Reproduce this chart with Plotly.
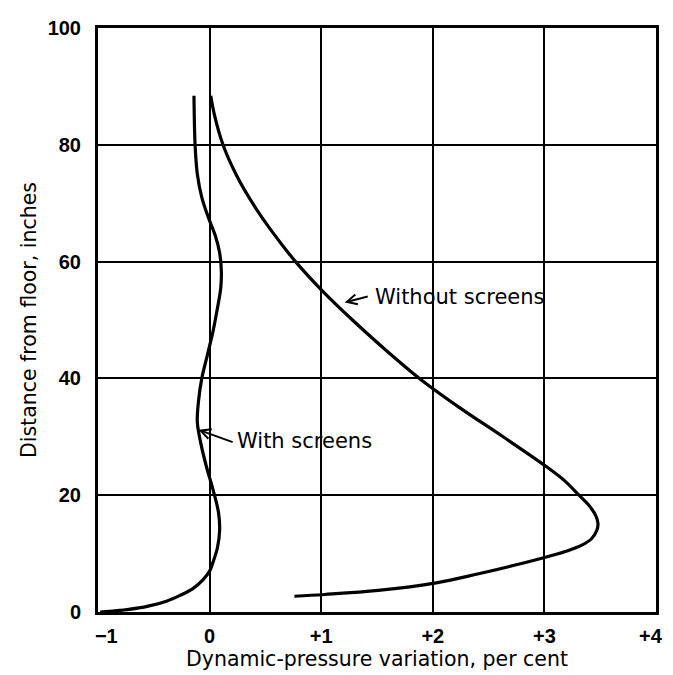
import plotly.graph_objects as go

# Data
without_y = [88.4, 85, 80, 75, 70, 65, 60, 55, 50, 45, 40, 35, 30, 25, 22.5, 20, 18, 16.5, 15.2, 14, 12.5, 11.5, 10.5, 9.6, 7.95, 6.5, 5.0, 3.7, 3.0, 2.7]
without_x = [0.01, 0.045, 0.12, 0.235, 0.385, 0.565, 0.77, 1.01, 1.28, 1.57, 1.88, 2.24, 2.63, 3.01, 3.18, 3.31, 3.41, 3.46, 3.48, 3.47, 3.42, 3.34, 3.21, 3.05, 2.72, 2.40, 2.03, 1.51, 1.03, 0.76]

with_y = [88.4, 80, 75, 71, 67.5, 64.5, 61.5, 58.5, 55.5, 52, 48, 44, 40, 36, 32.5, 29, 25, 21, 17, 14, 11, 8.5, 7, 5.5, 4, 2.8, 1.9, 1.0, 0.4, 0.1, 0]
with_x = [-0.14, -0.13, -0.11, -0.07, -0.01, 0.05, 0.09, 0.105, 0.10, 0.07, 0.03, -0.02, -0.07, -0.10, -0.11, -0.08, -0.03, 0.03, 0.08, 0.09, 0.07, 0.03, 0.0, -0.06, -0.15, -0.27, -0.38, -0.55, -0.74, -0.90, -0.98]

x_tickvals = [-1, 0, 1, 2, 3, 4]
x_ticktext = ["\u00a0\u00a0\u00a0\u22121", "0", "+1", "+2", "+3", "+4\u00a0\u00a0"]
y_tickvals = [0, 20, 40, 60, 80, 100]
y_ticktext = ["0", "20", "40", "60", "80", "100"]

TICKFONT = "Liberation Sans"
FONT = "DejaVu Sans"

fig = go.Figure()
fig.add_trace(go.Scatter(x=without_x, y=without_y, mode="lines",
                         line=dict(color="black", width=3.2, shape="spline", smoothing=1.0),
                         name="Without screens", showlegend=False))
fig.add_trace(go.Scatter(x=with_x, y=with_y, mode="lines",
                         line=dict(color="black", width=3.2, shape="spline", smoothing=1.0),
                         name="With screens", showlegend=False))

fig.add_annotation(x=1.21, y=53.0, ax=1.43, ay=54.1, axref="x", ayref="y",
                   xref="x", yref="y", text="", showarrow=True,
                   arrowhead=5, arrowsize=1.0, arrowwidth=2, arrowcolor="black")
fig.add_annotation(x=1.46, y=53.9, xref="x", yref="y", text="Without screens",
                   showarrow=False, xanchor="left", yanchor="middle",
                   font=dict(family=FONT, size=21, color="black"))

fig.add_annotation(x=-0.10, y=31.2, ax=0.22, ay=29.0, axref="x", ayref="y",
                   xref="x", yref="y", text="", showarrow=True,
                   arrowhead=5, arrowsize=1.0, arrowwidth=2, arrowcolor="black")
fig.add_annotation(x=0.23, y=29.2, xref="x", yref="y", text="With screens",
                   showarrow=False, xanchor="left", yanchor="middle",
                   font=dict(family=FONT, size=21, color="black"))

fig.update_xaxes(range=[-1, 4], tickvals=x_tickvals, ticktext=x_ticktext,
                 showgrid=True, gridcolor="black", gridwidth=1.6,
                 showline=True, linecolor="black", linewidth=3, mirror=True,
                 zeroline=False, ticks="", ticklabeloverflow="allow",
                 ticklabelstandoff=4,
                 tickfont=dict(family=TICKFONT, size=20, color="black", weight="bold"),
                 title=dict(text="Dynamic-pressure variation, per cent",
                            font=dict(family=FONT, size=20.5, color="black"), standoff=6))
fig.update_yaxes(range=[0, 100], tickvals=y_tickvals, ticktext=y_ticktext,
                 showgrid=True, gridcolor="black", gridwidth=1.6,
                 showline=True, linecolor="black", linewidth=3, mirror=True,
                 zeroline=False, ticks="", ticklabelstandoff=10,
                 tickfont=dict(family=TICKFONT, size=20, color="black", weight="bold"),
                 title=dict(text="Distance from floor, inches",
                            font=dict(family=FONT, size=20.5, color="black"), standoff=6))

fig.update_layout(width=673, height=675,
                  margin=dict(l=90, r=8, t=20, b=71),
                  plot_bgcolor="white", paper_bgcolor="white",
                  showlegend=False)

fig.write_html("out.html")
